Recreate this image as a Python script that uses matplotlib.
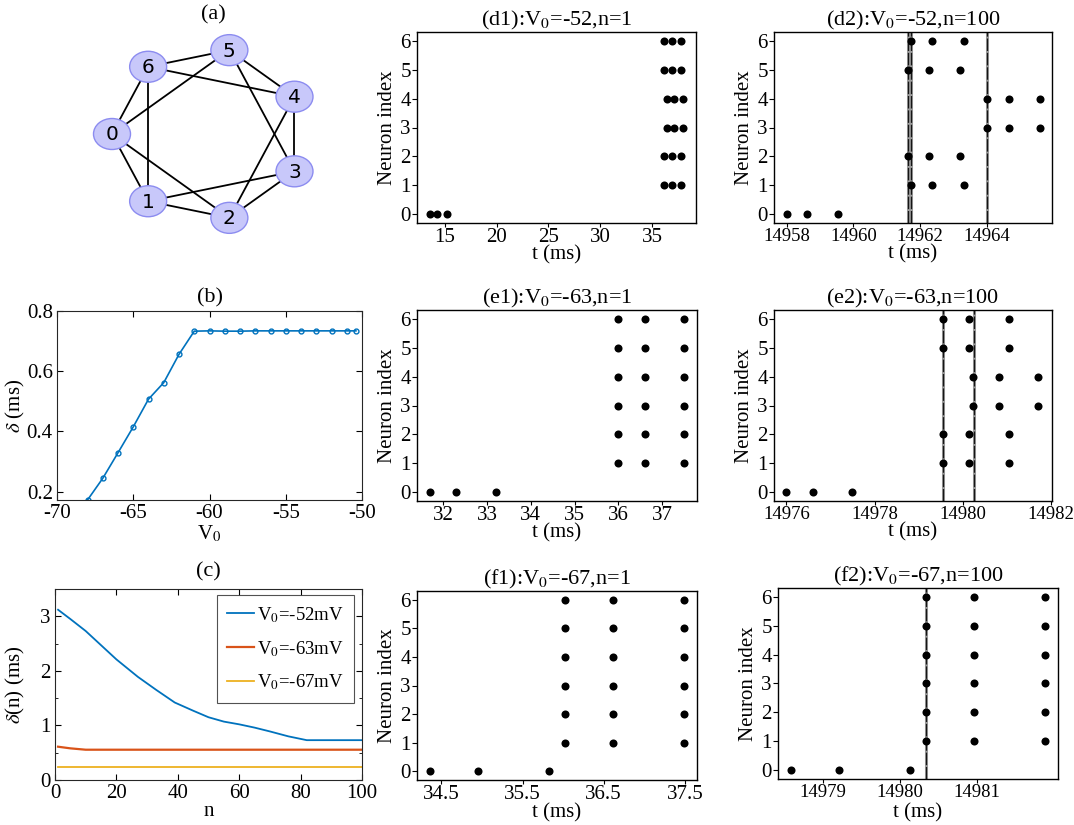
import numpy as np
import matplotlib
matplotlib.use("Agg")
import matplotlib.pyplot as plt
from matplotlib.patches import Ellipse

plt.rcParams['font.family'] = ['Liberation Serif', 'DejaVu Serif']
plt.rcParams['mathtext.fontset'] = 'stix'
plt.rcParams['axes.unicode_minus'] = False

W, H = 1074, 825

# ---------------- data ----------------
# (a) network
node_ids = [0, 1, 2, 3, 4, 5, 6]
edges = [(6, 5), (6, 4), (6, 0), (6, 1), (5, 0), (5, 4), (5, 3),
         (4, 3), (4, 2), (0, 1), (0, 2), (1, 3), (1, 2), (2, 3)]

# (b) delta vs V0
b_V0 = [-68, -67, -66, -65, -64, -63, -62, -61, -60, -59, -58, -57, -56,
        -55, -54, -53, -52, -51, -50.4]
b_delta = [0.172, 0.244, 0.329, 0.415, 0.507, 0.562, 0.656, 0.733, 0.734,
           0.733, 0.733, 0.734, 0.734, 0.734, 0.734, 0.734, 0.734, 0.734, 0.734]

# (c) delta(n)
c_n52 = [1, 5, 10, 15, 20, 27, 33, 39, 45, 50, 55, 60, 65, 70, 76, 82, 90, 100]
c_d52 = [3.12, 2.95, 2.73, 2.47, 2.21, 1.89, 1.65, 1.42, 1.27, 1.15, 1.07,
         1.02, 0.96, 0.89, 0.80, 0.73, 0.73, 0.73]
c_n63 = [1, 5, 10, 100]
c_d63 = [0.61, 0.58, 0.555, 0.555]
c_n67 = [1, 100]
c_d67 = [0.24, 0.24]

# raster data: (neuron indices, spike times)
d1_spikes = [([0], [13.55, 14.26, 15.16]),
             ([1, 2, 5, 6], [36.2, 36.9, 37.8]),
             ([3, 4], [36.45, 37.1, 38.0])]
d2_spikes = [([0], [14958.0, 14958.62, 14959.55]),
             ([2, 5], [14961.63, 14962.25, 14963.18]),
             ([1, 6], [14961.74, 14962.36, 14963.3]),
             ([3, 4], [14964.01, 14964.65, 14965.58])]
d2_vlines = [14961.63, 14961.74, 14964.0]
e1_spikes = [([0], [31.7, 32.3, 33.2]),
             ([1, 2, 3, 4, 5, 6], [36.0, 36.6, 37.5])]
e2_spikes = [([0], [14976.0, 14976.6, 14977.48]),
             ([1, 2, 5, 6], [14979.55, 14980.14, 14981.04]),
             ([3, 4], [14980.23, 14980.83, 14981.71])]
e2_vlines = [14979.55, 14980.25]
f1_spikes = [([0], [34.36, 34.95, 35.83]),
             ([1, 2, 3, 4, 5, 6], [36.02, 36.61, 37.49])]
f2_spikes = [([0], [14978.58, 14979.2, 14980.13]),
             ([1, 2, 3, 4, 5, 6], [14980.34, 14980.96, 14981.89])]
f2_vlines = [14980.34]

fig = plt.figure(figsize=(W / 100, H / 100), dpi=100)


def px_axes(l, t, r, b):
    return fig.add_axes([l / W, 1 - b / H, (r - l) / W, (b - t) / H])


TICK = 15
LAB = 15
TIT = 16

# ---------------- (a) ----------------
axa = px_axes(0, 0, 360, 260)
axa.set_xlim(0, 360)
axa.set_ylim(260, 0)
axa.axis('off')
cx, cy, rx, ry = 208, 134, 96, 86
pos = {}
for i in node_ids:
    ang = np.pi + i * 2 * np.pi / 7
    pos[i] = (cx + rx * np.cos(ang), cy - ry * np.sin(ang))
for a, b in edges:
    axa.plot([pos[a][0], pos[b][0]], [pos[a][1], pos[b][1]], color='black',
             lw=1.3, zorder=1)
for i in node_ids:
    axa.add_patch(Ellipse(pos[i], 37, 31, facecolor='#c8c8fa',
                          edgecolor='#8c8cf0', lw=1.0, zorder=2))
    axa.text(pos[i][0], pos[i][1] + 1, str(i), ha='center', va='center',
             fontsize=14.5, family='DejaVu Sans', zorder=3)
axa.text(213, 15, '(a)', ha='center', va='center', fontsize=TIT)


def matlab_style(ax):
    ax.tick_params(direction='in', top=True, right=True, labelsize=TICK,
                   length=4, width=0.8, pad=3)
    ax.tick_params(which='minor', direction='in', top=True, right=True,
                   length=2.5)
    for s in ax.spines.values():
        s.set_color('#262626')
        s.set_linewidth(0.8)


# ---------------- (b) ----------------
axb = px_axes(57, 311, 362, 500)
axb.plot(b_V0, b_delta, '-o', color='#0072BD', lw=1.2, ms=3.5, mfc='none',
         mew=1.0)
axb.set_xlim(-70, -50)
axb.set_ylim(0.172, 0.8)
axb.set_xticks([-70, -65, -60, -55, -50])
axb.set_yticks([0.2, 0.4, 0.6, 0.8])
axb.set_yticklabels(['0.2', '0.4', '0.6', '0.8'])
matlab_style(axb)
axb.set_ylabel(r'$\delta$ (ms)', fontsize=LAB)
axb.yaxis.set_label_coords(-0.098, 0.5)
axb.set_xlabel(r'V$_0$', fontsize=LAB, labelpad=0)
axb.set_title('(b)', fontsize=TIT, pad=6)

# ---------------- (c) ----------------
axc = px_axes(55, 589, 362, 780)
axc.plot(c_n52, c_d52, color='#0072BD', lw=1.3, label=r'V$_0$=-52mV')
axc.plot(c_n63, c_d63, color='#D95319', lw=1.6, label=r'V$_0$=-63mV')
axc.plot(c_n67, c_d67, color='#EDB120', lw=1.3, label=r'V$_0$=-67mV')
axc.set_xlim(0, 100)
axc.set_ylim(0, 3.5)
axc.set_xticks([0, 20, 40, 60, 80, 100])
axc.set_yticks([0, 1, 2, 3])
axc.set_yticks([0.5, 1.5, 2.5], minor=True)
matlab_style(axc)
axc.set_ylabel(r'$\delta$(n) (ms)', fontsize=LAB)
axc.yaxis.set_label_coords(-0.092, 0.5)
axc.set_xlabel('n', fontsize=LAB, labelpad=-1)
axc.set_title('(c)', fontsize=TIT, pad=9)
leg = axc.legend(loc='upper right', fontsize=13.5, frameon=True,
                 fancybox=False, edgecolor='#262626', handlelength=1.45,
                 borderpad=0.55, labelspacing=0.75, handletextpad=0.15,
                 borderaxespad=0, bbox_to_anchor=(0.975, 0.97))
leg.get_frame().set_linewidth(0.8)


# ---------------- rasters ----------------
def raster(box, spikes, title, xlim, xticks, vlines, xlab_y, xtick_size):
    ax = px_axes(*box)
    for neurons, times in spikes:
        for nrn in neurons:
            ax.plot(times, [nrn] * len(times), 'o', color='black', ms=5.8,
                    mew=0, zorder=3)
    for v in vlines:
        ax.axvline(v, color='#9a9a9a', lw=2.2, zorder=1)
        ax.axvline(v, color='#151515', lw=0.9, ls=(0, (10, 1.5)), zorder=2)
    ax.set_xlim(*xlim)
    ax.set_ylim(-0.3, 6.3)
    ax.set_xticks(xticks)
    ax.set_xticklabels([('%g' % v) for v in xticks])
    ax.set_yticks(range(7))
    ax.tick_params(labelsize=TICK, length=3.5, width=0.8, pad=1)
    ax.tick_params(axis='x', labelsize=xtick_size, length=3, pad=0.5)
    for s in ax.spines.values():
        s.set_linewidth(1.0)
    ax.set_title(title, fontsize=TIT, pad=3)
    ax.set_ylabel('Neuron index', fontsize=LAB, labelpad=2)
    ax.set_xlabel('t (ms)', fontsize=LAB)
    ax.xaxis.set_label_coords(0.5, xlab_y)
    return ax


raster((417, 32, 696, 223), d1_spikes, r'(d1):V$_0$=-52,n=1', (12.3, 39.25),
       [15, 20, 25, 30, 35], [], -0.118, TICK)
raster((774, 32, 1052, 223), d2_spikes, r'(d2):V$_0$=-52,n=100',
       (14957.62, 14965.95), [14958, 14960, 14962, 14964], d2_vlines, -0.112,
       13.5)
raster((417, 310, 697, 501), e1_spikes, r'(e1):V$_0$=-63,n=1', (31.4, 37.8),
       [32, 33, 34, 35, 36, 37], [], -0.118, TICK)
raster((774, 310, 1052, 501), e2_spikes, r'(e2):V$_0$=-63,n=100',
       (14975.72, 14982.02), [14976, 14978, 14980, 14982], e2_vlines, -0.112,
       13.5)
raster((417, 591, 697, 780), f1_spikes, r'(f1):V$_0$=-67,n=1', (34.2, 37.65),
       [34.5, 35.5, 36.5, 37.5], [], -0.125, TICK)
raster((778, 588, 1058, 779), f2_spikes, r'(f2):V$_0$=-67,n=100',
       (14978.41, 14982.06), [14979, 14980, 14981], f2_vlines, -0.125, 13.5)

fig.savefig('out.png', dpi=100)
